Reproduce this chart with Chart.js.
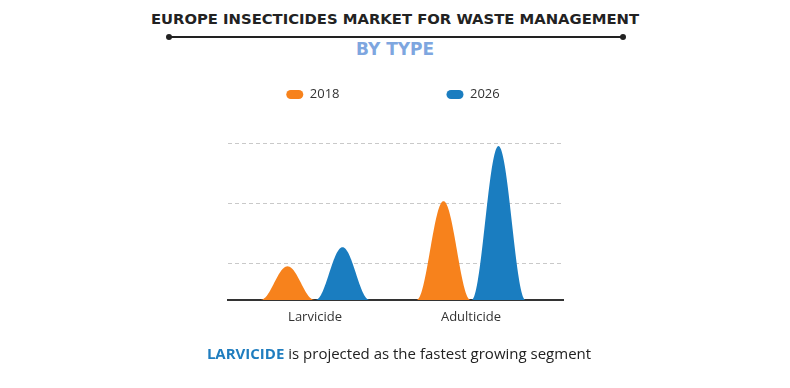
<!DOCTYPE html>
<html><head><meta charset="utf-8">
<script src="https://cdn.jsdelivr.net/npm/chart.js@4"></script>
<style>
html,body{margin:0;padding:0;}
body{width:790px;height:388px;overflow:hidden;background:#fff;position:relative;font-family:"Open Sans",sans-serif;}
#title{position:absolute;top:10px;left:0;width:790px;text-align:center;font-family:"DejaVu Sans",sans-serif;font-weight:700;font-size:14.8px;color:#222;white-space:nowrap;}
#rule{position:absolute;top:36px;left:168px;width:455px;height:2px;background:#222;}
.dot{position:absolute;top:34px;width:6px;height:6px;border-radius:3px;background:#222;}
#sub{position:absolute;top:39px;left:0;width:790px;text-align:center;font-family:"DejaVu Sans",sans-serif;font-weight:700;font-size:17px;color:#7ea6df;}
#wrap{position:absolute;top:-19px;left:-2px;width:790px;height:407px;}
#foot{position:absolute;top:343px;left:4px;width:790px;text-align:center;font-size:15px;color:#222;white-space:nowrap;}
#foot b{color:#1f7dbf;font-weight:700;}
</style>
</head><body>
<div id="title">EUROPE INSECTICIDES MARKET FOR WASTE MANAGEMENT</div>
<div id="rule"></div>
<div class="dot" style="left:166px"></div>
<div class="dot" style="left:620px"></div>
<div id="sub">BY TYPE</div>
<div id="wrap"><canvas id="c"></canvas></div>
<div id="foot"><b>LARVICIDE</b> is projected as the fastest growing segment</div>
<script>
const categories = ['Larvicide', 'Adulticide'];
const categoryX = [1, 2];
const years = ['2018', '2026'];
const values2018 = [34, 99];
const values2026 = [53, 154];
const gridValues = [0, 37, 97, 157];
const yMax = 189;

const colors = ['#f7821c', '#1a7dc0'];

const bellPlugin = {
  id: 'bell',
  beforeDatasetDraw(chart, args) {
    const meta = args.meta;
    const ctx = chart.ctx;
    const ds = chart.data.datasets[args.index];
    ctx.save();
    ctx.fillStyle = ds.backgroundColor;
    meta.data.forEach(el => {
      const p = el.getProps(['x', 'y', 'base', 'width'], true);
      const h = p.base - p.y;
      const half = p.width / 2;
      ctx.beginPath();
      ctx.moveTo(p.x - half, p.base);
      const N = 80;
      for (let i = 0; i <= N; i++) {
        const t = -1 + 2 * i / N;
        const v = (1 + Math.cos(Math.PI * t)) / 2;
        ctx.lineTo(p.x + t * half, p.base - h * v);
      }
      ctx.closePath();
      ctx.fill();
    });
    ctx.restore();
    return false;
  }
};

const series = [values2018, values2026];
new Chart(document.getElementById('c'), {
  type: 'bar',
  data: {
    datasets: years.map((yr, k) => ({
      label: yr,
      data: categoryX.map((x, i) => ({ x: x, y: series[k][i] })),
      backgroundColor: colors[k],
      borderWidth: 0,
      categoryPercentage: 0.705,
      barPercentage: 0.98
    }))
  },
  options: {
    responsive: true,
    maintainAspectRatio: false,
    animation: false,
    layout: { padding: { left: 0, right: 0, top: 0, bottom: 54 } },
    plugins: {
      tooltip: { enabled: false },
      title: { display: false },
      legend: {
        display: true,
        position: 'top',
        labels: {
          font: { family: 'Open Sans', size: 13 },
          color: '#333',
          boxWidth: 17,
          boxHeight: 9,
          useBorderRadius: true,
          borderRadius: 4.5,
          padding: 107
        }
      }
    },
    scales: {
      x: {
        type: 'linear',
        offset: false,
        min: 0.442,
        max: 2.59,
        afterBuildTicks: s => { s.ticks = categoryX.map(v => ({ value: v })); },
        ticks: {
          autoSkip: false,
          maxRotation: 0,
          padding: 9,
          color: '#333',
          font: { family: 'Open Sans', size: 13 },
          callback: v => categories[categoryX.indexOf(v)]
        },
        grid: { display: false, drawTicks: false, offset: false },
        border: { display: true, color: '#333', width: 2 }
      },
      y: {
        min: 0,
        max: yMax,
        afterBuildTicks: s => { s.ticks = gridValues.map(v => ({ value: v })); },
        afterFit: s => { s.width = 230; },
        ticks: { display: false },
        grid: { color: '#c9c9c9', lineWidth: 1, drawTicks: false },
        border: { display: false, dash: [4, 3] }
      },
      yRight: {
        position: 'right',
        min: 0,
        max: yMax,
        afterFit: s => { s.width = 225; },
        ticks: { display: false },
        grid: { display: false, drawTicks: false },
        border: { display: false }
      }
    }
  },
  plugins: [bellPlugin]
});
</script>
</body></html>
